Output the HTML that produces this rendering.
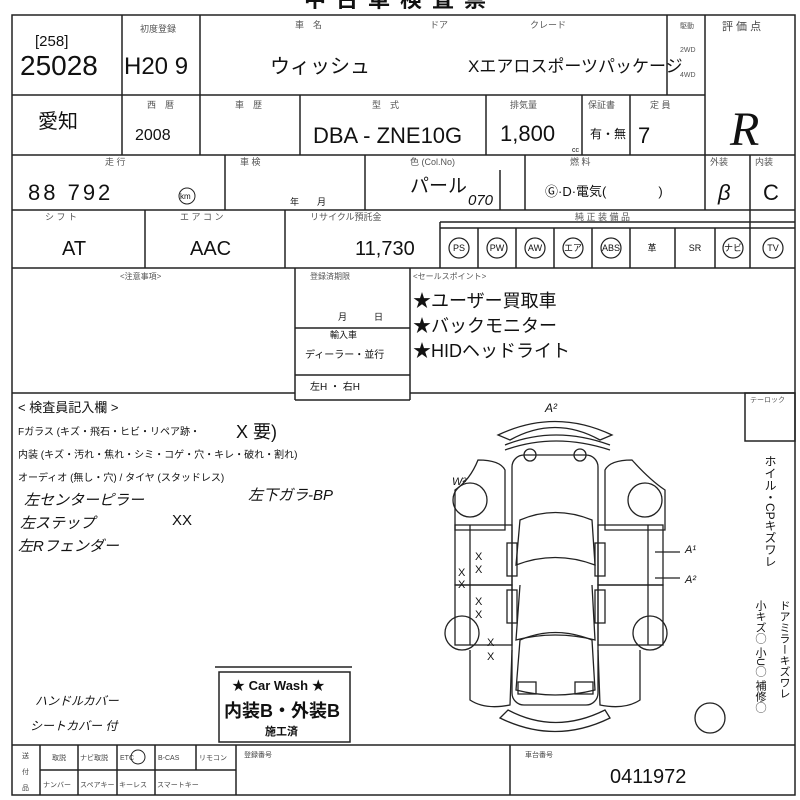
<!DOCTYPE html>
<html><head><meta charset="utf-8"><style>
body{margin:0;background:#fff;}
svg{display:block;font-family:"Liberation Sans","Noto Sans CJK JP",sans-serif;}
</style></head><body>
<svg width="800" height="800" viewBox="0 0 800 800" xmlns="http://www.w3.org/2000/svg">
<rect width="800" height="800" fill="#fff"/>
<text x="400" y="7" font-size="22" font-weight="bold" text-anchor="middle" fill="#111" letter-spacing="10">中古車検査票</text>
<g stroke="#222" stroke-width="1.5" fill="none">
<rect x="12" y="15" width="783" height="780"/>
<line x1="12" y1="95" x2="705" y2="95"/>
<line x1="12" y1="155" x2="795" y2="155"/>
<line x1="12" y1="210" x2="795" y2="210"/>
<line x1="12" y1="268" x2="795" y2="268"/>
<line x1="12" y1="393" x2="295" y2="393"/>
<line x1="410" y1="393" x2="795" y2="393"/>
<line x1="12" y1="745" x2="795" y2="745"/>
<line x1="122" y1="15" x2="122" y2="155"/>
<line x1="200" y1="15" x2="200" y2="155"/>
<line x1="667" y1="15" x2="667" y2="95"/>
<line x1="705" y1="15" x2="705" y2="210"/>
<line x1="300" y1="95" x2="300" y2="155"/>
<line x1="486" y1="95" x2="486" y2="155"/>
<line x1="582" y1="95" x2="582" y2="155"/>
<line x1="630" y1="95" x2="630" y2="155"/>
<line x1="225" y1="155" x2="225" y2="210"/>
<line x1="365" y1="155" x2="365" y2="210"/>
<line x1="500" y1="170" x2="500" y2="210"/>
<line x1="525" y1="155" x2="525" y2="210"/>
<line x1="750" y1="155" x2="750" y2="268"/>
<line x1="145" y1="210" x2="145" y2="268"/>
<line x1="285" y1="210" x2="285" y2="268"/>
<line x1="440" y1="222" x2="440" y2="268"/>
<line x1="440" y1="222" x2="795" y2="222"/>
<line x1="440" y1="228" x2="795" y2="228"/>
<line x1="478" y1="228" x2="478" y2="268"/>
<line x1="516" y1="228" x2="516" y2="268"/>
<line x1="554" y1="228" x2="554" y2="268"/>
<line x1="592" y1="228" x2="592" y2="268"/>
<line x1="630" y1="228" x2="630" y2="268"/>
<line x1="675" y1="228" x2="675" y2="268"/>
<line x1="715" y1="228" x2="715" y2="268"/>
<line x1="295" y1="268" x2="295" y2="400"/>
<line x1="410" y1="268" x2="410" y2="400"/>
<line x1="295" y1="400" x2="410" y2="400"/>
<line x1="295" y1="328" x2="410" y2="328"/>
<line x1="295" y1="375" x2="410" y2="375"/>
<rect x="745" y="393" width="50" height="48"/>
<line x1="40" y1="745" x2="40" y2="795"/>
<line x1="78" y1="745" x2="78" y2="795"/>
<line x1="117" y1="745" x2="117" y2="795"/>
<line x1="155" y1="745" x2="155" y2="795"/>
<line x1="196" y1="745" x2="196" y2="770"/>
<line x1="236" y1="745" x2="236" y2="795"/>
<line x1="40" y1="770" x2="236" y2="770"/>
<line x1="510" y1="745" x2="510" y2="795"/>
<rect x="219" y="672" width="131" height="70"/>
<line x1="215" y1="667" x2="352" y2="667"/>
</g>
<g stroke="#222" stroke-width="1.3" fill="none">
<path d="M510 440 Q555 415 600 440 L612 435 Q555 408 498 435 Z"/>
<path d="M505 445 Q555 425 610 445"/>
<path d="M505 450 Q555 432 610 450"/>
<rect x="512" y="455" width="86" height="250" rx="12"/>
<circle cx="530" cy="455" r="6"/><circle cx="580" cy="455" r="6"/>
<path d="M520 520 Q555 505 592 520 L595 565 Q555 550 516 565 Z"/>
<path d="M520 585 L516 640 Q555 630 595 640 L592 585"/>
<path d="M520 640 Q555 625 592 640 L595 690 Q555 700 516 690 Z"/>
<path d="M478 460 Q500 460 505 470 L505 530 L455 530 L455 490 Q470 480 478 460 Z"/>
<path d="M632 460 Q610 460 605 470 L605 530 L665 530 L665 490 Q650 480 632 460 Z"/>
<circle cx="470" cy="500" r="17"/><circle cx="645" cy="500" r="17"/>
<rect x="455" y="525" width="57" height="60"/><rect x="455" y="585" width="57" height="60"/>
<line x1="470" y1="525" x2="470" y2="645"/>
<rect x="598" y="525" width="65" height="60"/><rect x="598" y="585" width="65" height="60"/>
<line x1="648" y1="525" x2="648" y2="645"/>
<rect x="507" y="543" width="10" height="33"/><rect x="507" y="590" width="10" height="33"/>
<rect x="595" y="543" width="10" height="33"/><rect x="595" y="590" width="10" height="33"/>
<circle cx="462" cy="633" r="17"/><circle cx="650" cy="633" r="17"/>
<path d="M470 650 L470 700 Q485 710 510 705 L512 650"/>
<path d="M640 650 L640 700 Q625 710 600 705 L598 650"/>
<rect x="518" y="682" width="18" height="12"/><rect x="575" y="682" width="18" height="12"/>
<path d="M508 710 Q555 735 605 710 L610 718 Q555 745 500 718 Z"/>
<circle cx="710" cy="718" r="15"/>
<line x1="655" y1="552" x2="680" y2="552"/><line x1="655" y1="578" x2="680" y2="578"/>
</g>
<g fill="#111">
<text x="35" y="46" font-size="15">[258]</text>
<text x="20" y="75" font-size="28">25028</text>
<text x="140" y="32" font-size="9" fill="#555">初度登録</text>
<text x="124" y="74" font-size="24">H20 9</text>
<text x="295" y="28" font-size="9" fill="#555">車　名</text>
<text x="430" y="28" font-size="9" fill="#555">ドア</text>
<text x="530" y="28" font-size="9" fill="#555">クレード</text>
<text x="270" y="73" font-size="20">ウィッシュ</text>
<text x="468" y="72" font-size="17">Xエアロスポーツパッケージ</text>
<text x="680" y="28" font-size="7" fill="#555">駆動</text>
<text x="680" y="52" font-size="7" fill="#555">2WD</text>
<text x="680" y="77" font-size="7" fill="#555">4WD</text>
<text x="722" y="30" font-size="11" fill="#444">評 価 点</text>
<text x="38" y="128" font-size="20">愛知</text>
<text x="147" y="108" font-size="9" fill="#555">西　暦</text>
<text x="135" y="140" font-size="16">2008</text>
<text x="235" y="108" font-size="9" fill="#555">車　歴</text>
<text x="372" y="108" font-size="9" fill="#555">型　式</text>
<text x="313" y="143" font-size="22">DBA - ZNE10G</text>
<text x="510" y="108" font-size="9" fill="#555">排気量</text>
<text x="500" y="141" font-size="22">1,800</text>
<text x="572" y="152" font-size="7">cc</text>
<text x="588" y="108" font-size="9" fill="#555">保証書</text>
<text x="590" y="138" font-size="12">有・無</text>
<text x="650" y="108" font-size="9" fill="#555">定 員</text>
<text x="638" y="143" font-size="22">7</text>
<text x="730" y="145" font-size="48" font-style="italic" font-family="Liberation Serif,serif">R</text>
<text x="105" y="165" font-size="9" fill="#555">走 行</text>
<text x="240" y="165" font-size="9" fill="#555">車 検</text>
<text x="410" y="165" font-size="9" fill="#555">色 (Col.No)</text>
<text x="570" y="165" font-size="9" fill="#555">燃 料</text>
<text x="710" y="165" font-size="9" fill="#555">外装</text>
<text x="755" y="165" font-size="9" fill="#555">内装</text>
<text x="28" y="200" font-size="22" letter-spacing="3">88 792</text>
<circle cx="187" cy="196" r="8" fill="none" stroke="#222"/>
<text x="180" y="199" font-size="8">km</text>
<text x="290" y="205" font-size="9">年　　月</text>
<text x="410" y="192" font-size="19">パール</text>
<text x="468" y="205" font-size="15" font-style="italic">070</text>
<text x="545" y="196" font-size="13">Ⓖ·D·電気(　　　　)</text>
<text x="718" y="200" font-size="22" font-style="italic">β</text>
<text x="763" y="200" font-size="22">C</text>
<text x="45" y="220" font-size="9" fill="#555">シ フ ト</text>
<text x="180" y="220" font-size="9" fill="#555">エ ア コ ン</text>
<text x="310" y="220" font-size="9" fill="#555">リサイクル預託金</text>
<text x="575" y="220" font-size="9" fill="#555">純 正 装 備 品</text>
<text x="62" y="255" font-size="20">AT</text>
<text x="190" y="255" font-size="20">AAC</text>
<text x="355" y="255" font-size="20">11,730</text>
<g font-size="9" text-anchor="middle">
<text x="459" y="251">PS</text><text x="497" y="251">PW</text><text x="535" y="251">AW</text><text x="573" y="251">エア</text><text x="611" y="251">ABS</text><text x="652" y="251">革</text><text x="695" y="251">SR</text><text x="733" y="251">ナビ</text><text x="773" y="251">TV</text>
</g>
<g fill="none" stroke="#222" stroke-width="1.2">
<circle cx="459" cy="248" r="10"/><circle cx="497" cy="248" r="10"/><circle cx="535" cy="248" r="10"/><circle cx="573" cy="248" r="10"/><circle cx="611" cy="248" r="10"/><circle cx="733" cy="248" r="10"/><circle cx="773" cy="248" r="10"/>
</g>
<text x="120" y="279" font-size="8" fill="#555">&lt;注意事項&gt;</text>
<text x="310" y="279" font-size="8" fill="#555">登録済期限</text>
<text x="338" y="320" font-size="9">月　　　日</text>
<text x="330" y="338" font-size="9">輸入車</text>
<text x="305" y="358" font-size="10">ディーラー・並行</text>
<text x="310" y="390" font-size="10">左H ・ 右H</text>
<text x="413" y="279" font-size="8" fill="#555">&lt;セールスポイント&gt;</text>
<text x="413" y="307" font-size="18">★ユーザー買取車</text>
<text x="413" y="332" font-size="18">★バックモニター</text>
<text x="413" y="357" font-size="18">★HIDヘッドライト</text>
<text x="18" y="412" font-size="13">&lt; 検査員記入欄 &gt;</text>
<text x="18" y="435" font-size="10">Fガラス (キズ・飛石・ヒビ・リペア跡・</text>
<text x="236" y="438" font-size="18">X 要)</text>
<text x="18" y="458" font-size="10">内装 (キズ・汚れ・焦れ・シミ・コゲ・穴・キレ・破れ・割れ)</text>
<text x="18" y="481" font-size="10">オーディオ (無し・穴) / タイヤ (スタッドレス)</text>
<text x="24" y="505" font-size="15" font-style="italic">左センターピラー</text>
<text x="20" y="528" font-size="15" font-style="italic">左ステップ</text>
<text x="18" y="551" font-size="15" font-style="italic">左Rフェンダー</text>
<text x="172" y="525" font-size="15">XX</text>
<text x="248" y="500" font-size="15" font-style="italic">左下ガラ-BP</text>
<text x="35" y="705" font-size="12" font-style="italic">ハンドルカバー</text>
<text x="30" y="730" font-size="12" font-style="italic">シートカバー 付</text>
<text x="232" y="690" font-size="13" font-weight="bold">★ Car Wash ★</text>
<text x="224" y="717" font-size="18" font-weight="bold">内装B・外装B</text>
<text x="265" y="735" font-size="11" font-weight="bold">施工済</text>
<text x="545" y="412" font-size="12" font-style="italic">A²</text>
<text x="452" y="485" font-size="11" font-style="italic">W²</text>
<text x="685" y="553" font-size="11" font-style="italic">A¹</text>
<text x="685" y="583" font-size="11" font-style="italic">A²</text>
<text x="475" y="560" font-size="11">X</text><text x="475" y="573" font-size="11">X</text>
<text x="458" y="576" font-size="11">X</text><text x="458" y="588" font-size="11">X</text>
<text x="475" y="605" font-size="11">X</text><text x="475" y="618" font-size="11">X</text>
<text x="487" y="646" font-size="11">X</text><text x="487" y="660" font-size="11">X</text>
<text x="750" y="402" font-size="7" fill="#555">テーロック</text>
<text x="770" y="455" font-size="12" style="writing-mode:tb">ホイル・CPキズワレ</text>
<text x="760" y="600" font-size="11" style="writing-mode:tb">小キズ◯ 小U◯ 補修◯</text>
<text x="784" y="600" font-size="11" style="writing-mode:tb">ドアミラーキズワレ</text>
<g font-size="7" fill="#444">
<text x="22" y="758">送</text><text x="22" y="774">付</text><text x="22" y="790">品</text>
<text x="52" y="760">取説</text><text x="80" y="760">ナビ取説</text><text x="120" y="760">ETC</text><text x="158" y="760">B-CAS</text><text x="199" y="760">リモコン</text>
<text x="43" y="787">ナンバー</text><text x="80" y="787">スペアキー</text><text x="119" y="787">キーレス</text><text x="157" y="787">スマートキー</text>
<text x="244" y="757">登録番号</text><text x="525" y="757">車台番号</text>
</g>
<circle cx="138" cy="757" r="7" fill="none" stroke="#222"/>
<text x="610" y="783" font-size="20">0411972</text>
</g>
</svg>
</body></html>
